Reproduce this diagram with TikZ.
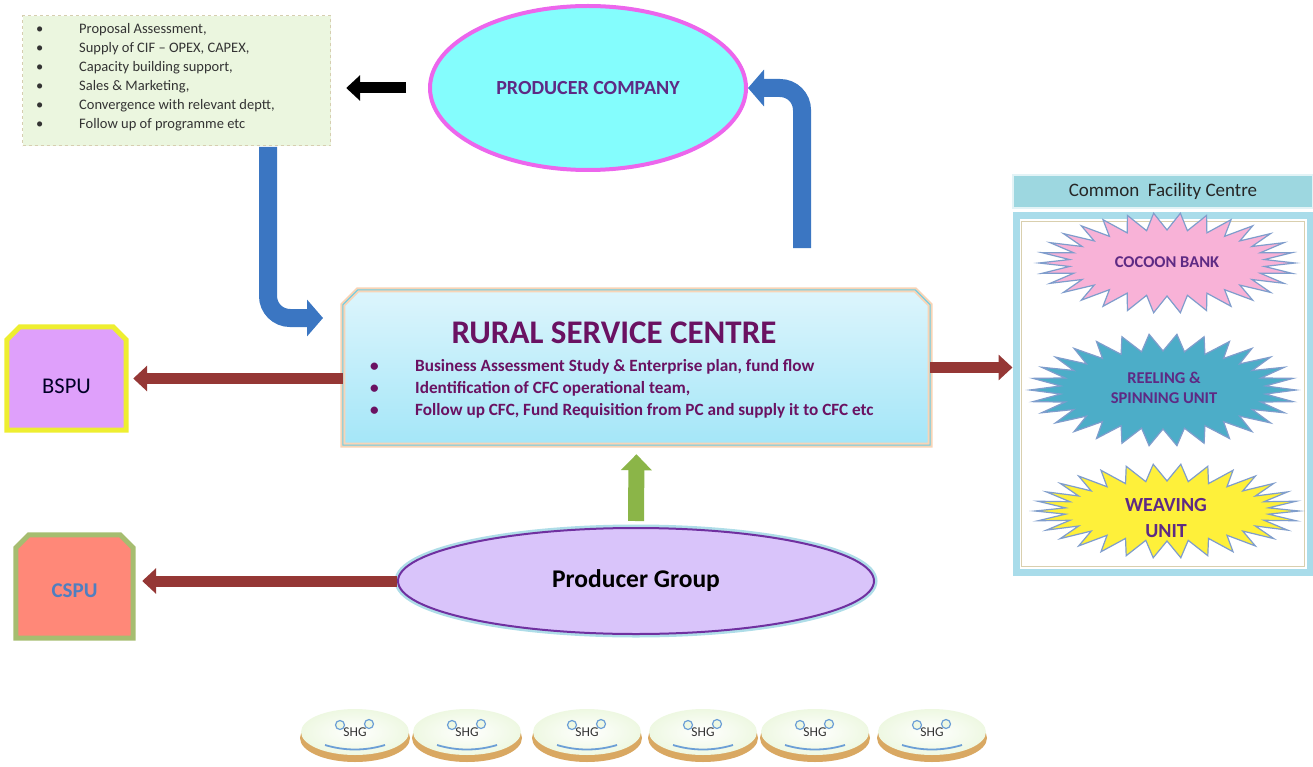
\documentclass[tikz,border=0pt]{standalone}
\usepackage{fontspec}
\setmainfont{Carlito}
\usetikzlibrary{arrows.meta,calc,shapes.geometric}
\definecolor{infofill}{HTML}{EBF6DF}
\definecolor{infoline}{HTML}{D6CEB0}
\definecolor{pcfill}{HTML}{84FDFD}
\definecolor{pcline}{HTML}{EC66EC}
\definecolor{purpletext}{HTML}{5E2A84}
\definecolor{rsctext}{HTML}{6A1262}
\definecolor{rsctop}{HTML}{DDF5FC}
\definecolor{rscbot}{HTML}{A4E6F8}
\definecolor{peach}{HTML}{F8D4B6}
\definecolor{rscinner}{HTML}{6CCDE4}
\definecolor{redarrow}{HTML}{953735}
\definecolor{bluearrow}{HTML}{3B76C2}
\definecolor{greenarrow}{HTML}{8BB548}
\definecolor{pgfill}{HTML}{D9C4FA}
\definecolor{pgline}{HTML}{7030A0}
\definecolor{pgglow}{HTML}{AEDDE8}
\definecolor{bspufill}{HTML}{DFA0FB}
\definecolor{bspuline}{HTML}{EEEE30}
\definecolor{cspufill}{HTML}{FF8878}
\definecolor{cspuline}{HTML}{A6BD70}
\definecolor{csputext}{HTML}{4F7FC0}
\definecolor{cfchead}{HTML}{9DD7E0}
\definecolor{cfcline}{HTML}{A9DCEA}
\definecolor{cfcinner}{HTML}{D9CFAE}
\definecolor{cocoon}{HTML}{F8B2D7}
\definecolor{reeling}{HTML}{4CADC8}
\definecolor{weaving}{HTML}{FEF03A}
\definecolor{starline}{HTML}{7F9DCC}
\definecolor{shgtop}{HTML}{EEF8E2}
\definecolor{shgshadow}{HTML}{D9A862}
\definecolor{shgeye}{HTML}{6C9FD6}
\newcommand\setfs[2]{\fontsize{#1}{#2}\selectfont}
\tikzset{
  redarr/.style={draw=redarrow, line width=11pt, -{Triangle[length=14pt,width=25pt]}},
  bluarr/.style={draw=bluearrow, line width=18pt, rounded corners=22pt, -{Triangle[length=16pt,width=36pt]}},
  greenarr/.style={draw=greenarrow, line width=16pt, -{Triangle[length=16pt,width=30pt]}},
  blackarr/.style={draw=black, line width=11pt, -{Triangle[length=14pt,width=25pt]}},
  infotext/.style={anchor=west, inner sep=0pt, font=\setfs{14.5}{16}, text=black!80},
  rscbullet/.style={anchor=west, inner sep=0pt, font=\setfs{17.2}{19}\bfseries, text=rsctext},
  startext/.style={align=center, font=\setfs{16.5}{20}\bfseries, text=purpletext},
}
\begin{document}
\begin{tikzpicture}[x=1pt,y=-1pt]
\useasboundingbox (0,0) rectangle (1313,767);

% info box
\node[draw=infoline, dashed, line width=1.2pt, fill=infofill, minimum width=308pt, minimum height=130pt, anchor=north west] (info) at (22,15) {};
\foreach \txt [count=\i] in {{Proposal Assessment,},{Supply of CIF – OPEX, CAPEX,},{Capacity building support,},{Sales \& Marketing,},{Convergence with relevant deptt,},{Follow up of programme etc}}{
  \node[infotext] (ib\i) at (36,11+19*\i) {•};
  \node[infotext] (it\i) at (79,11+19*\i) {\txt};
}

% producer company
\node[ellipse, draw=pcline, line width=4pt, fill=pcfill, minimum width=316pt, minimum height=164pt, font=\setfs{20}{22}\bfseries, text=purpletext] (pc) at (588,88) {PRODUCER COMPANY};

\draw[blackarr, shorten <=22pt, shorten >=15pt] (pc.west) -- (info.east |- pc.west);

% rural service centre
\node[minimum width=587pt, minimum height=155pt, inner sep=0pt] (rsc) at (636.5,367.5) {};
\path[draw=peach, line width=5pt, top color=rsctop, bottom color=rscbot]
  (rsc.south west) -- ($(rsc.north west)+(0,15)$) -- ($(rsc.north west)+(15,0)$)
  -- ($(rsc.north east)+(-15,0)$) -- ($(rsc.north east)+(0,15)$) -- (rsc.south east) -- cycle;
\draw[rscinner, line width=1pt]
  (rsc.south west) -- ($(rsc.north west)+(0,15)$) -- ($(rsc.north west)+(15,0)$)
  -- ($(rsc.north east)+(-15,0)$) -- ($(rsc.north east)+(0,15)$) -- (rsc.south east) -- cycle;
\node[font=\setfs{33}{35}\bfseries, text=rsctext] (rsct) at (614,333) {RURAL SERVICE CENTRE};
\foreach \txt [count=\i] in {{Business Assessment Study \& Enterprise plan, fund flow},{Identification of CFC operational team,},{Follow up CFC, Fund Requisition from PC and supply it to CFC etc}}{
  \node[rscbullet] (rb\i) at (370,345+22*\i) {•};
  \node[rscbullet] (rt\i) at (415,345+22*\i) {\txt};
}

% blue bent arrows
\coordinate (bu1) at (802,248);
\draw[bluarr] (bu1) |- (pc.east);
\coordinate (bu2) at (268,147);
\coordinate (bu2e) at (323,318);
\draw[bluarr] (bu2) |- (bu2e);

% BSPU
\node[minimum width=119pt, minimum height=103pt, inner sep=0pt] (bspu) at (66.5,378.5) {};
\path[draw=bspuline, line width=5pt, fill=bspufill]
  (bspu.south west) -- ($(bspu.north west)+(0,13)$) -- ($(bspu.north west)+(13,0)$)
  -- ($(bspu.north east)+(-13,0)$) -- ($(bspu.north east)+(0,13)$) -- (bspu.south east) -- cycle;
\node[font=\setfs{22.5}{24}, text=black!85!blue] (bspt) at ([yshift=-8pt]bspu.center) {BSPU};
\draw[redarr, shorten >=7pt] (rsc.west |- bspu.east) -- (bspu.east);

% producer group
\draw[pgglow, line width=7pt] (636,581) ellipse [x radius=238pt, y radius=53pt];
\node[ellipse, draw=pgline, line width=2pt, fill=pgfill, minimum width=476pt, minimum height=106pt, font=\setfs{25.5}{27}\bfseries] (pg) at (636,581) {Producer Group};
\draw[greenarr, shorten <=6pt, shorten >=9pt] (pg.north) -- (rsc.south);

% CSPU
\node[minimum width=117pt, minimum height=103pt, inner sep=0pt] (cspu) at (74.5,586.5) {};
\path[draw=cspuline, line width=5pt, fill=cspufill]
  (cspu.south west) -- ($(cspu.north west)+(0,13)$) -- ($(cspu.north west)+(13,0)$)
  -- ($(cspu.north east)+(-13,0)$) -- ($(cspu.north east)+(0,13)$) -- (cspu.south east) -- cycle;
\node[font=\setfs{21}{23}\bfseries, text=csputext] (cspt) at ([yshift=-4pt]cspu.center) {CSPU};
\draw[redarr, shorten >=9pt] (pg.west) -- (cspu.east |- pg.west);

% common facility centre
\node[draw=white!70!cfchead, line width=1.5pt, fill=cfchead, minimum width=300pt, minimum height=33pt, font=\setfs{19}{21}, text=black!85] (cfch) at (1163,191.5) {Common\ \ Facility Centre};
\node[draw=cfcline, line width=7pt, fill=white, minimum width=294pt, minimum height=356pt] (cfc) at (1163,394) {};
\draw[cfcinner, line width=1.2pt] ($(cfc.north west)+(9,9)$) rectangle ($(cfc.south east)+(-9,-9)$);
\draw[redarr] (rsc.east) -- (cfc.west |- rsc.east);

\foreach \cx/\cy/\rx/\ry/\col in {1167/263/128/50/cocoon, 1163/390/133/56/reeling, 1167/511/132/47/weaving}{
  \draw[fill=\col, draw=starline, line width=1.2pt]
    plot[samples=61, domain=0:360, variable=\t]
    ({\cx + (\rx - 30*mod(round(\t/6),2))*cos(\t)}, {\cy + (\ry - 17*mod(round(\t/6),2))*sin(\t)}) -- cycle;
}
\node[startext] (cb) at (1167,262) {COCOON BANK};
\node[startext] (rs) at (1164,388) {REELING \&\\SPINNING UNIT};
\node[startext, font=\setfs{20}{26}\bfseries] (wv) at (1166,518) {WEAVING\\UNIT};

% SHG buttons
\foreach \x [count=\i] in {355,467,587,703,815,932}{
  \fill[shgshadow] (\x,738) ellipse [x radius=55pt, y radius=24pt];
  \node[ellipse, inner color=white, outer color=shgtop, minimum width=108pt, minimum height=46pt, font=\setfs{13.5}{14}, text=black!80] (shg\i) at (\x,732) {SHG};
  \draw[shgeye, line width=1.2pt, fill=shgtop] (\x-15,725) circle [radius=4.5pt];
  \draw[shgeye, line width=1.2pt, fill=shgtop] (\x+14,724) circle [radius=4.5pt];
  \draw[shgeye, line width=1.8pt] (\x-30,745) .. controls (\x-10,751) and (\x+10,751) .. (\x+30,745);
}
\end{tikzpicture}
\end{document}
